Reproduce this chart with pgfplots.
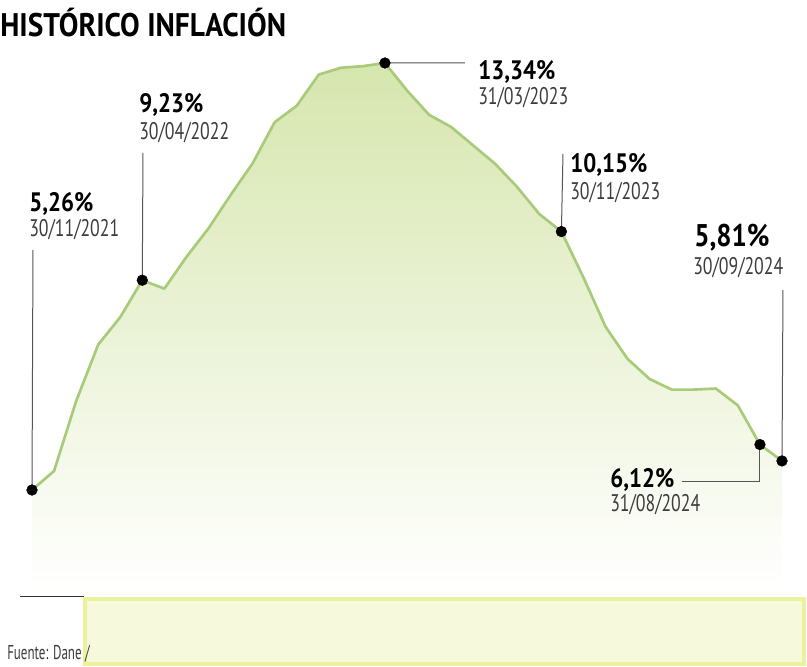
\documentclass[border=0pt]{standalone}
\usepackage{pgfplots}
\pgfplotsset{compat=1.18}
\usepackage{fontspec}
\setmainfont{PT Sans}
\newfontfamily\titlefont{PT Sans}[FakeStretch=0.9]
\newfontfamily\valfont{PT Sans}[FakeStretch=0.86]
\newfontfamily\datefont{PT Sans}[FakeStretch=0.74]
\newfontfamily\srcfont{PT Sans}[FakeStretch=0.65]
\definecolor{linegreen}{RGB}{168,203,122}
\definecolor{fillgreen}{RGB}{214,230,174}
\definecolor{boxfill}{RGB}{247,249,220}
\definecolor{boxedge}{RGB}{236,242,156}
\definecolor{leader}{RGB}{85,85,85}
\definecolor{datecol}{RGB}{60,60,60}
\newcommand{\PX}[2]{(rel axis cs:{(#1)/807},{1-(#2)/667})}
\newcommand{\val}[1]{{\valfont\bfseries\fontsize{20}{20}\selectfont #1}}
\newcommand{\dat}[1]{{\datefont\color{datecol}\fontsize{18}{18}\selectfont #1}}
\begin{document}
\begin{tikzpicture}
\begin{axis}[
  scale only axis, width=605.25pt, height=500.25pt,
  xmin=-1.4507, xmax=35.133, ymin=1.911, ymax=14.532,
  hide axis, clip=false,
]
\path \PX{0}{0} rectangle \PX{807}{667};
% area
\addplot[draw=none, top color=fillgreen, bottom color=white] coordinates {
(0,3.37) (0,5.26) (1,5.62) (2,6.94) (3,8.01) (4,8.53) (5,9.23) (6,9.07) (7,9.67)
(8,10.21) (9,10.84) (10,11.44) (11,12.22) (12,12.53) (13,13.12) (14,13.25)
(15,13.28) (16,13.34) (17,12.82) (18,12.36) (19,12.13) (20,11.78) (21,11.43)
(22,10.99) (23,10.48) (24,10.15) (25,9.28) (26,8.35) (27,7.74) (28,7.36)
(29,7.16) (30,7.16) (31,7.18) (32,6.86) (33,6.12) (34,5.81) (34,3.37)} -- cycle;
% line
\addplot[linegreen, line width=2pt, line join=round] coordinates {
(0,5.26) (1,5.62) (2,6.94) (3,8.01) (4,8.53) (5,9.23) (6,9.07) (7,9.67)
(8,10.21) (9,10.84) (10,11.44) (11,12.22) (12,12.53) (13,13.12) (14,13.25)
(15,13.28) (16,13.34) (17,12.82) (18,12.36) (19,12.13) (20,11.78) (21,11.43)
(22,10.99) (23,10.48) (24,10.15) (25,9.28) (26,8.35) (27,7.74) (28,7.36)
(29,7.16) (30,7.16) (31,7.18) (32,6.86) (33,6.12) (34,5.81)};
% leader lines
\draw[leader, line width=0.75pt] \PX{33}{250} -- (axis cs:0,5.26);
\draw[leader, line width=0.75pt] \PX{143}{153} -- (axis cs:5,9.23);
\draw[leader, line width=0.75pt] (axis cs:16,13.34) -- \PX{465}{63};
\draw[leader, line width=0.75pt] \PX{563}{154} -- (axis cs:24,10.15);
\draw[leader, line width=0.75pt] \PX{783}{290} -- (axis cs:34,5.81);
\draw[leader, line width=0.75pt] (axis cs:33,6.12) |- \PX{682}{482};
% dots
\addplot[only marks, mark=*, mark size=4pt, black] coordinates {
(0,5.26) (5,9.23) (16,13.34) (24,10.15) (33,6.12) (34,5.81)};
% labels
\node[anchor=base west, inner sep=0] at \PX{0}{37} {\titlefont\bfseries\fontsize{24.5}{25}\selectfont HISTÓRICO INFLACIÓN};
\node[anchor=base west, inner sep=0] at \PX{29}{212} {\val{5,26\%}};
\node[anchor=base west, inner sep=0] at \PX{29}{237} {\dat{30/11/2021}};
\node[anchor=base west, inner sep=0] at \PX{139}{113} {\val{9,23\%}};
\node[anchor=base west, inner sep=0] at \PX{139}{140} {\dat{30/04/2022}};
\node[anchor=base west, inner sep=0] at \PX{478}{80} {\val{13,34\%}};
\node[anchor=base west, inner sep=0] at \PX{478}{105} {\dat{31/03/2023}};
\node[anchor=base west, inner sep=0] at \PX{570}{173} {\val{10,15\%}};
\node[anchor=base west, inner sep=0] at \PX{570}{200} {\dat{30/11/2023}};
\node[anchor=base west, inner sep=0] at \PX{694}{247} {{\valfont\bfseries\fontsize{23.5}{24}\selectfont 5,81\%}};
\node[anchor=base west, inner sep=0] at \PX{693}{275} {\dat{30/09/2024}};
\node[anchor=base west, inner sep=0] at \PX{610}{488} {\val{6,12\%}};
\node[anchor=base west, inner sep=0] at \PX{610}{512} {\dat{31/08/2024}};
% footer
\draw[black!80, line width=0.75pt] \PX{20}{597} -- \PX{84}{597};
\draw[boxedge, fill=boxfill, line width=3pt] \PX{85.5}{599.5} rectangle \PX{804.5}{664.5};
\node[anchor=base west, inner sep=0] at \PX{7}{660} {{\srcfont\color{datecol}\fontsize{15}{15}\selectfont Fuente: Dane /}};
\end{axis}
\end{tikzpicture}
\end{document}
